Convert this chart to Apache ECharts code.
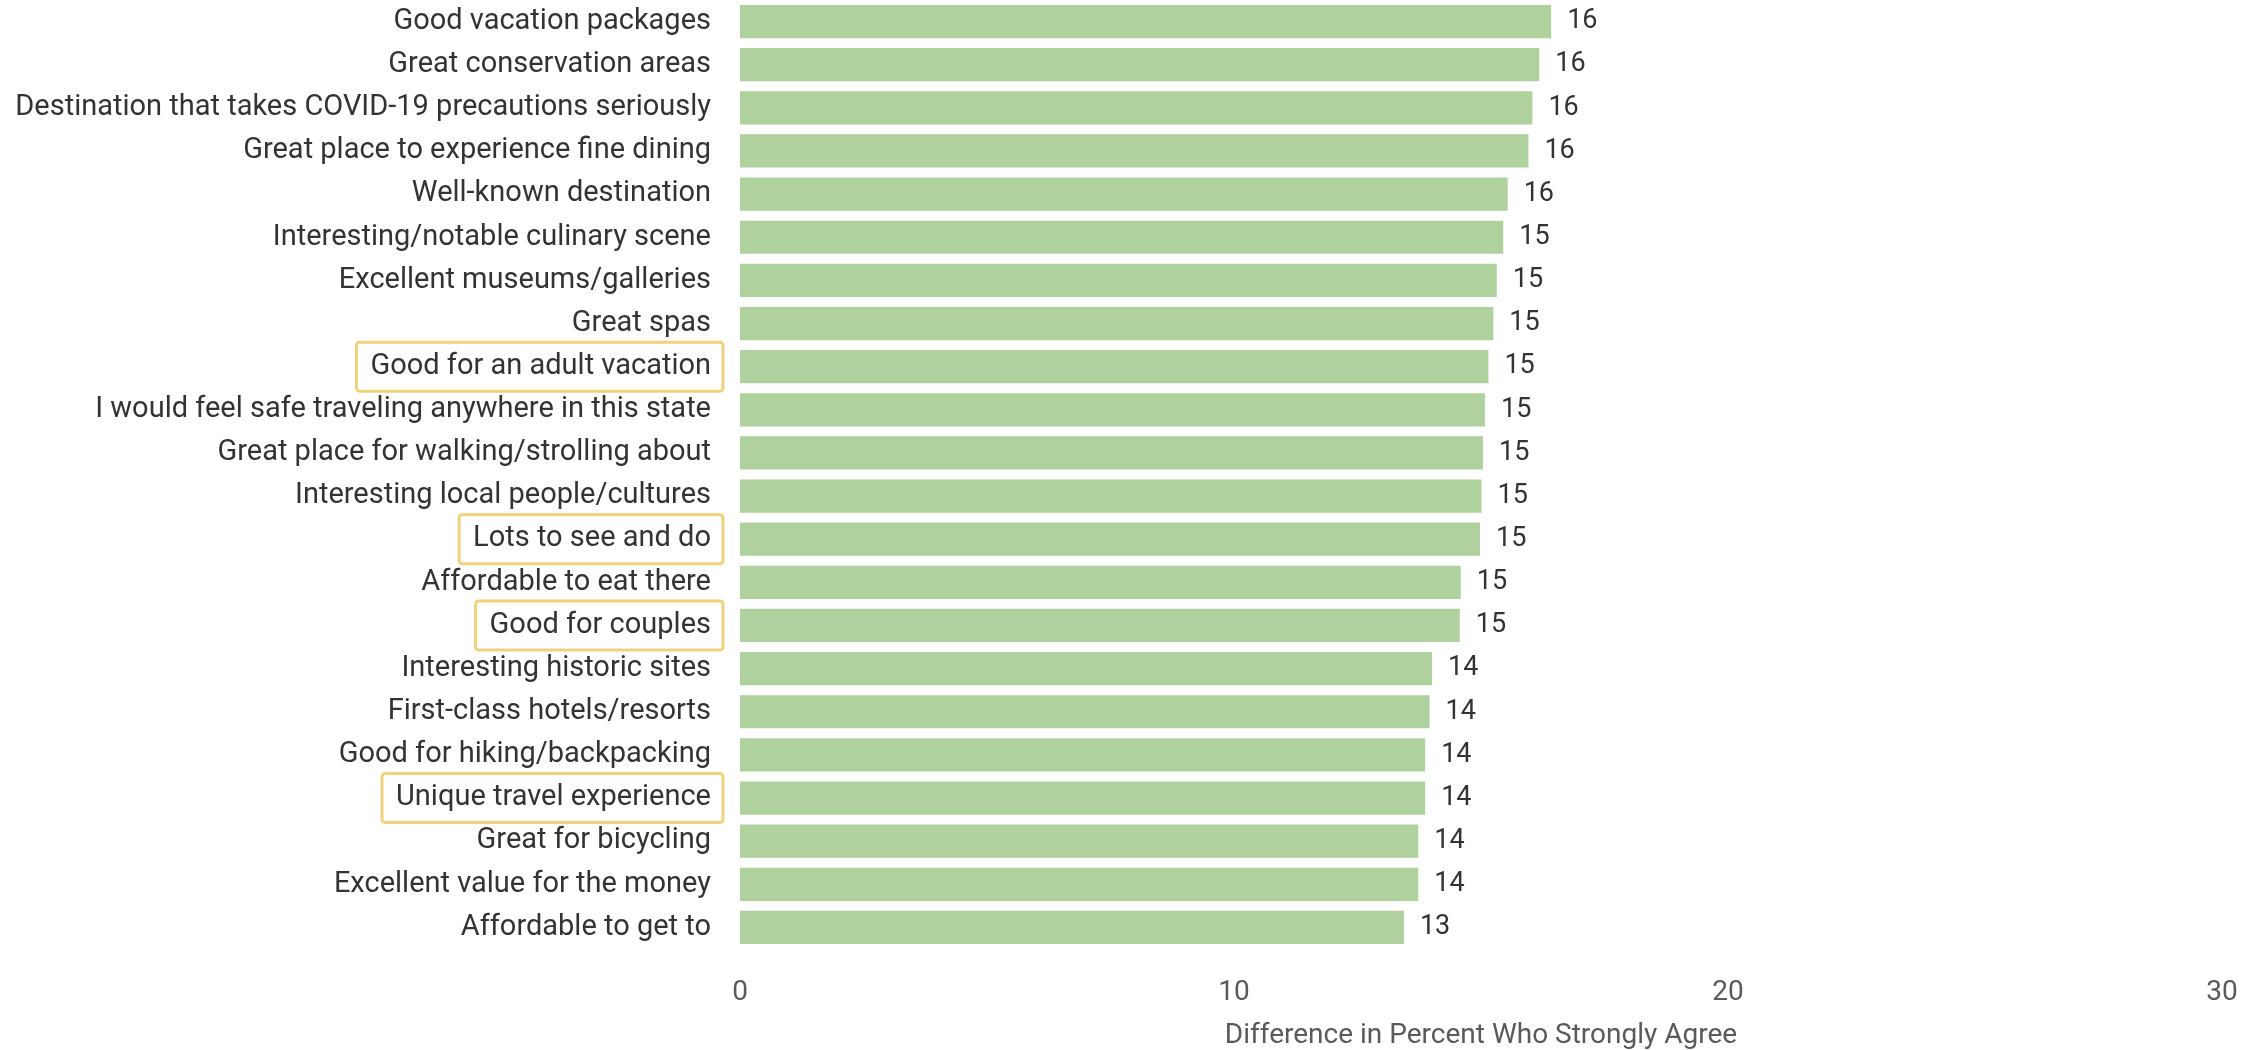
<!DOCTYPE html>
<html>
<head>
<meta charset="utf-8">
<script src="https://cdn.jsdelivr.net/npm/echarts@6/dist/echarts.min.js"></script>
<style>
  html, body { margin: 0; padding: 0; background: #ffffff; }
  #chart { width: 2266px; height: 1050px; }
</style>
</head>
<body>
<div id="chart"></div>
<script>
const categories = [
  "Good vacation packages",
  "Great conservation areas",
  "Destination that takes COVID-19 precautions seriously",
  "Great place to experience fine dining",
  "Well-known destination",
  "Interesting/notable culinary scene",
  "Excellent museums/galleries",
  "Great spas",
  "Good for an adult vacation",
  "I would feel safe traveling anywhere in this state",
  "Great place for walking/strolling about",
  "Interesting local people/cultures",
  "Lots to see and do",
  "Affordable to eat there",
  "Good for couples",
  "Interesting historic sites",
  "First-class hotels/resorts",
  "Good for hiking/backpacking",
  "Unique travel experience",
  "Great for bicycling",
  "Excellent value for the money",
  "Affordable to get to"
];
const values = [16.42, 16.18, 16.04, 15.96, 15.54, 15.45, 15.32, 15.25, 15.15, 15.08, 15.04, 15.01, 14.98, 14.59, 14.57, 14.01, 13.96, 13.87, 13.87, 13.73, 13.73, 13.44];
const highlighted = ["Good for an adult vacation", "Lots to see and do", "Good for couples", "Unique travel experience"];
const xTicks = [0, 10, 20, 30];
const axisTitle = "Difference in Percent Who Strongly Agree";

const FONT = "Roboto, 'Noto Sans', sans-serif";
const chart = echarts.init(document.getElementById('chart'), null, { renderer: 'canvas' });

const labelBase = {
  fontFamily: FONT,
  fontSize: 29,
  color: '#333333',
  lineHeight: 27,
  padding: [10, 12, 10, 14]
};

chart.setOption({
  backgroundColor: '#ffffff',
  animation: false,
  grid: { left: 740, right: 44, top: 0, bottom: 101, outerBoundsMode: 'none', containLabel: false },
  xAxis: {
    type: 'value',
    min: xTicks[0],
    max: xTicks[xTicks.length - 1],
    interval: 10,
    axisLine: { show: false },
    axisTick: { show: false },
    splitLine: { show: false },
    axisLabel: {
      margin: 30,
      fontFamily: FONT,
      fontSize: 28,
      color: '#5a5a5a',
      formatter: v => xTicks.includes(v) ? String(v) : ''
    },
    name: axisTitle,
    nameLocation: 'middle',
    nameGap: 73,
    nameTextStyle: { fontFamily: FONT, fontSize: 28, color: '#5a5a5a' }
  },
  yAxis: {
    type: 'category',
    inverse: true,
    data: categories,
    axisLine: { show: false },
    axisTick: { show: false },
    splitLine: { show: false },
    axisLabel: {
      interval: 0,
      margin: 17,
      formatter: v => (highlighted.includes(v) ? '{hl|' : '{n|') + v + '}',
      rich: {
        n: Object.assign({}, labelBase),
        hl: Object.assign({}, labelBase, {
          borderColor: '#EFD27C',
          borderWidth: 3,
          borderRadius: 3
        })
      }
    }
  },
  series: [{
    type: 'bar',
    data: values,
    barCategoryGap: '23%',
    itemStyle: { color: '#AED19E' },
    label: {
      show: true,
      position: 'right',
      distance: 16,
      fontFamily: FONT,
      fontSize: 27,
      color: '#333333',
      formatter: p => String(Math.round(p.value))
    }
  }]
});
</script>
</body>
</html>
